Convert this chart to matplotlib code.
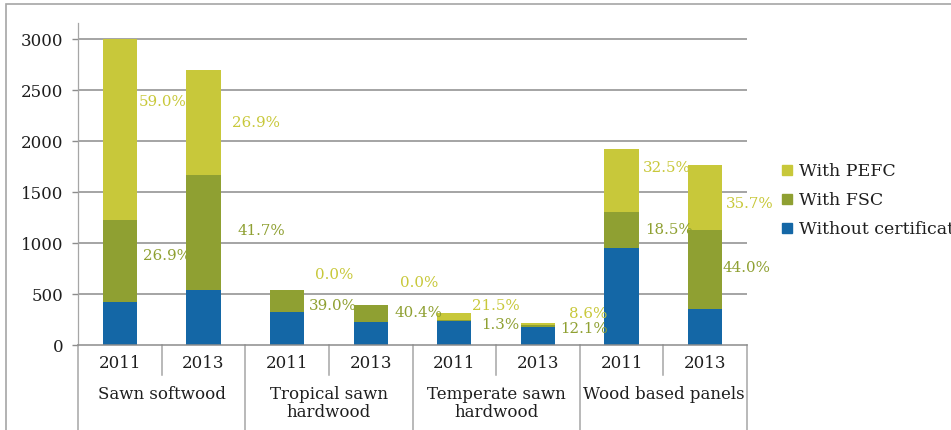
import matplotlib
matplotlib.use("Agg")
import matplotlib.pyplot as plt
from matplotlib.lines import Line2D
from matplotlib.patches import Rectangle
import numpy as np

# ---------------- data ----------------
categories = ["Sawn softwood", "Tropical sawn\nhardwood", "Temperate sawn\nhardwood", "Wood based panels"]
years = ["2011", "2013"]
without_cert = [423, 541, 327, 229, 239, 175, 951, 357]
with_fsc = [807, 1124, 214, 164, 4, 24, 350, 774]
with_pefc = [1770, 1029, 0, 0, 75, 19, 626, 636]
pefc_labels = ["59.0%", "26.9%", "0.0%", "0.0%", "21.5%", "8.6%", "32.5%", "35.7%"]
fsc_labels = ["26.9%", "41.7%", "39.0%", "40.4%", "1.3%", "12.1%", "18.5%", "44.0%"]
yticks = [0, 500, 1000, 1500, 2000, 2500, 3000]

# ---------------- style / layout ----------------
C_BLUE = "#1467a6"
C_FSC = "#8fa032"
C_PEFC = "#c8c83a"
C_TEXT = "#1e1e1e"
C_GRID = "#8c8c8c"
C_AXIS = "#a6a6a6"
FONT = "DejaVu Serif"
# label nudges in pixels: (dx from bar right edge, dy from segment middle)
pefc_nudge = [(2, 27), (11, 0), (11, 15), (12, 22), (1, 10), (14, 10), (4, 13), (4, -7)]
fsc_nudge = [(6, 5), (17, 2), (5, -5), (7, 0), (10, -4.5), (5, -3), (6, 0), (0, 1)]

plt.rcParams["font.family"] = [FONT, "DejaVu Sans"]

W, H = 951, 430
fig = plt.figure(figsize=(W / 100, H / 100), dpi=100)
x0, x1, yb, yt = 78, 747, 345, 23
ax = fig.add_axes([x0 / W, 1 - yb / H, (x1 - x0) / W, (yb - yt) / H])

n = len(without_cert)
x = np.arange(n)
bw = 0.41
without_cert = np.array(without_cert, float)
with_fsc = np.array(with_fsc, float)
with_pefc = np.array(with_pefc, float)

ax.bar(x, without_cert, bw, color=C_BLUE, zorder=3, label="Without certificate")
ax.bar(x, with_fsc, bw, bottom=without_cert, color=C_FSC, zorder=3, label="With FSC")
ax.bar(x, with_pefc, bw, bottom=without_cert + with_fsc, color=C_PEFC, zorder=3, label="With PEFC")

ax.set_xlim(-0.5, n - 0.5)
ax.set_ylim(0, 3160)
ax.set_yticks(yticks)
ax.set_yticklabels([str(v) for v in yticks], fontsize=12, color=C_TEXT)
ax.tick_params(axis="y", length=4.5, width=1.0, color=C_GRID, pad=6)
ax.set_xticks([])
for v in yticks[1:]:
    ax.axhline(v, color=C_GRID, lw=1.1, zorder=1)

for s in ["top", "right"]:
    ax.spines[s].set_visible(False)
ax.spines["left"].set_color(C_AXIS)
ax.spines["left"].set_linewidth(0.9)
ax.spines["bottom"].set_color(C_GRID)
ax.spines["bottom"].set_linewidth(1.1)
ax.spines["bottom"].set_zorder(4)

# percentage labels
for i in range(n):
    right = x[i] + bw / 2
    base = without_cert[i] + with_fsc[i]
    ymid_p = base + with_pefc[i] / 2
    ymid_f = without_cert[i] + with_fsc[i] / 2
    ax.annotate(pefc_labels[i], (right, ymid_p), xytext=pefc_nudge[i], textcoords="offset pixels",
                ha="left", va="center", fontsize=10.8, color=C_PEFC, zorder=5)
    ax.annotate(fsc_labels[i], (right, ymid_f), xytext=fsc_nudge[i], textcoords="offset pixels",
                ha="left", va="center", fontsize=10.8, color=C_FSC, zorder=5)

# multi-level category axis
tr = ax.get_xaxis_transform()
ax_h = yb - yt
for i in range(n):
    ax.text(x[i], -(363 - yb) / ax_h, years[i % 2], transform=tr, ha="center", va="center",
            fontsize=12, color=C_TEXT)
for i in range(n - 1):
    b = i + 0.5
    if i % 2 == 0:
        ax.plot([b, b], [0, -30 / ax_h], transform=tr, color=C_AXIS, lw=1.1, clip_on=False)
for b in np.arange(-0.5, n, 2):
    ax.plot([b, b], [0, -0.35], transform=tr, color=C_AXIS, lw=1.1, clip_on=False)
for g, name in enumerate(categories):
    ax.text(2 * g + 0.5, -(386 - yb) / ax_h, name, transform=tr, ha="center", va="top",
            fontsize=12, color=C_TEXT, linespacing=1.1)

# legend
handles = [Line2D([], [], marker="s", ls="none", color=c, markersize=7)
           for c in (C_PEFC, C_FSC, C_BLUE)]
fig.legend(handles, ["With PEFC", "With FSC", "Without certificate"], loc="upper left",
           bbox_to_anchor=(781 / W, 1 - 163 / H), frameon=False, fontsize=12.5,
           handlelength=0.7, handletextpad=0.35, labelspacing=0.68, borderpad=0,
           borderaxespad=0, labelcolor=C_TEXT)

# outer frame
fig.patches.append(Rectangle((6 / W, -0.1), 1.2, 1 + 0.1 - 4 / H, transform=fig.transFigure,
                             fill=False, edgecolor=C_AXIS, lw=1.2))

fig.savefig("out.png", dpi=100)
